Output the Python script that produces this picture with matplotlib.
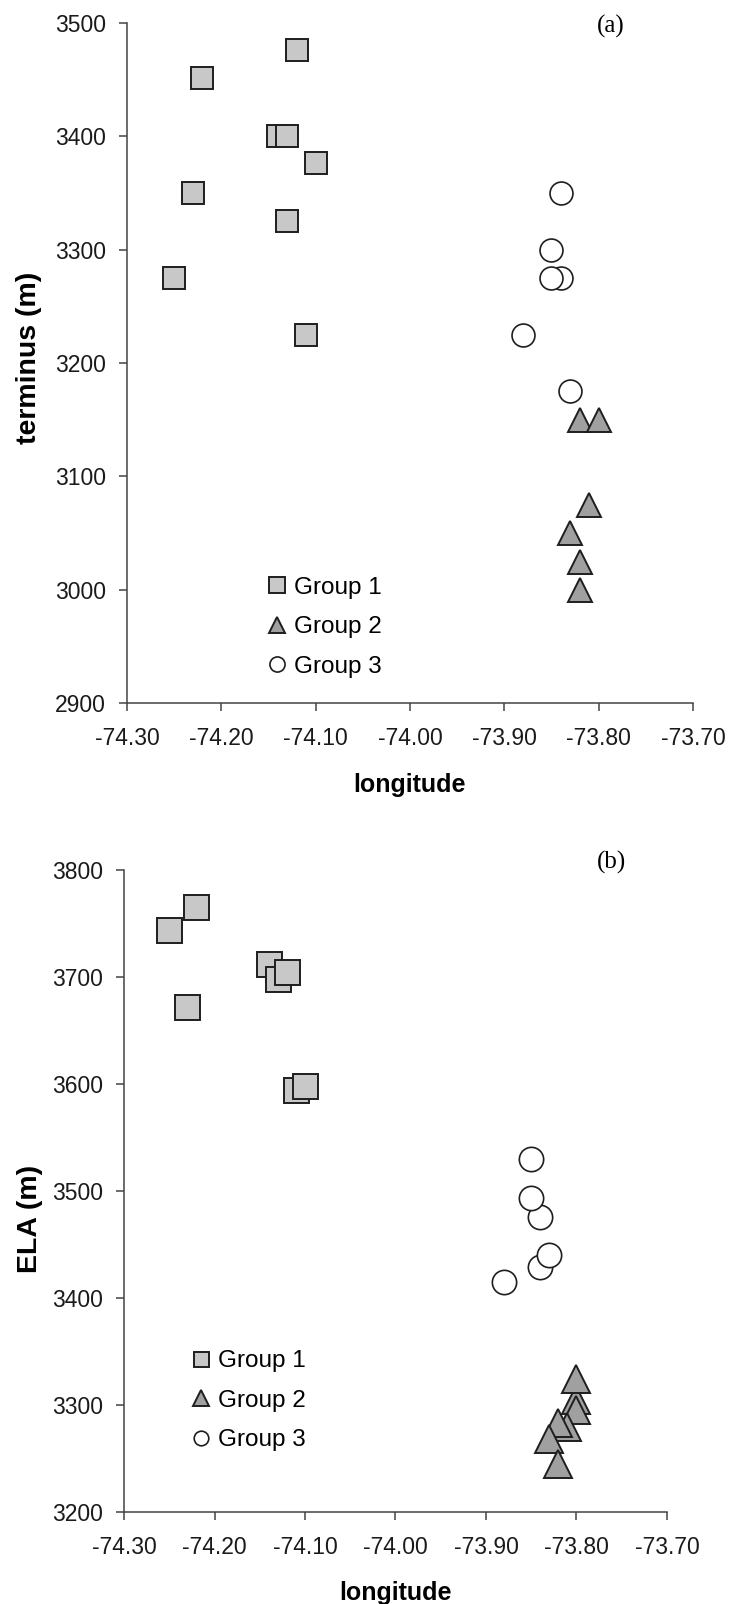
import matplotlib
matplotlib.use('Agg')
import matplotlib.pyplot as plt
import numpy as np
from matplotlib.ticker import FormatStrFormatter

plt.rcParams['font.family'] = ['Liberation Sans', 'DejaVu Sans']

# panel (a): terminus elevation vs longitude
g1_lon_a = [-74.12, -74.22, -74.14, -74.13, -74.10, -74.23, -74.13, -74.25, -74.11]
g1_term = [3476, 3451, 3400, 3400, 3376, 3350, 3325, 3275, 3225]
g2_lon_a = [-73.82, -73.80, -73.81, -73.83, -73.82, -73.82]
g2_term = [3150, 3150, 3075, 3050, 3025, 3000]
g3_lon_a = [-73.84, -73.85, -73.84, -73.85, -73.88, -73.83]
g3_term = [3350, 3300, 3275, 3275, 3225, 3175]

# panel (b): ELA vs longitude
g1_lon_b = [-74.22, -74.25, -74.14, -74.13, -74.12, -74.23, -74.11, -74.10]
g1_ela = [3765, 3744, 3712, 3698, 3705, 3672, 3594, 3598]
g2_lon_b = [-73.80, -73.80, -73.80, -73.81, -73.82, -73.83, -73.82]
g2_ela = [3305, 3324, 3295, 3279, 3283, 3268, 3245]
g3_lon_b = [-73.85, -73.84, -73.85, -73.84, -73.83, -73.88]
g3_ela = [3530, 3476, 3493, 3429, 3440, 3415]

xticks = [-74.30, -74.20, -74.10, -74.00, -73.90, -73.80, -73.70]
labels = ['Group 1', 'Group 2', 'Group 3']

c1 = '#c8c8c8'
c2 = '#a0a0a0'
edge = '#1e1e1e'
spine_c = '#444444'

fig = plt.figure(figsize=(7.32, 16.04), dpi=100)
ax1 = fig.add_axes([0.1735, 0.5615, 0.7732, 0.4243])
ax2 = fig.add_axes([0.1694, 0.0574, 0.7418, 0.4002])


def style_axes(ax, ylim, yticks):
    ax.set_xlim(-74.30, -73.70)
    ax.set_ylim(*ylim)
    ax.set_xticks(xticks)
    ax.set_yticks(yticks)
    ax.xaxis.set_major_formatter(FormatStrFormatter('%.2f'))
    for s in ['top', 'right']:
        ax.spines[s].set_visible(False)
    for s in ['left', 'bottom']:
        ax.spines[s].set_color(spine_c)
        ax.spines[s].set_linewidth(1.1)
    ax.tick_params(axis='both', direction='out', length=6, width=1.1,
                   color=spine_c, labelsize=16.5, labelcolor='#1a1a1a')
    ax.tick_params(axis='x', pad=11)
    ax.tick_params(axis='y', pad=9)


def draw(ax, data, ms):
    (x1, y1), (x2, y2), (x3, y3) = data
    ax.plot(x1, y1, 's', ms=ms[0], mfc=c1, mec=edge, mew=1.4, ls='none', label=labels[0])
    ax.plot(x2, y2, '^', ms=ms[1], mfc=c2, mec=edge, mew=1.4, ls='none', label=labels[1])
    ax.plot(x3, y3, 'o', ms=ms[2], mfc='white', mec=edge, mew=1.2, ls='none', label=labels[2])


draw(ax1, [(g1_lon_a, g1_term), (g2_lon_a, g2_term), (g3_lon_a, g3_term)], (16.5, 17.5, 16.5))
draw(ax2, [(g1_lon_b, g1_ela), (g2_lon_b, g2_ela), (g3_lon_b, g3_ela)], (18, 19.5, 17.5))

style_axes(ax1, (2900, 3500), np.arange(2900, 3501, 100))
style_axes(ax2, (3200, 3800), np.arange(3200, 3801, 100))

ax1.set_ylabel('terminus (m)', fontsize=20.5, fontweight='bold', va='center')
ax1.yaxis.set_label_coords(-0.173, 0.507)
ax1.set_xlabel('longitude', fontsize=18, fontweight='bold', va='center')
ax1.xaxis.set_label_coords(0.5, -0.120)

ax2.set_ylabel('ELA (m)', fontsize=20.5, fontweight='bold', va='center')
ax2.yaxis.set_label_coords(-0.173, 0.456)
ax2.set_xlabel('longitude', fontsize=18, fontweight='bold', va='center')
ax2.xaxis.set_label_coords(0.5, -0.126)

leg_kw = dict(frameon=False, fontsize=17.5, borderpad=0, borderaxespad=0,
              handlelength=0.8, handletextpad=0.3, labelspacing=0.72,
              loc='upper left', numpoints=1)
ax1.legend(bbox_to_anchor=(0.248, 0.186), markerscale=0.66, **leg_kw)
ax2.legend(bbox_to_anchor=(0.123, 0.252), markerscale=0.6, **leg_kw)

fig.text(0.8347, 0.9832, '(a)', family='Liberation Serif', fontsize=18,
         ha='center', va='center')
fig.text(0.836, 0.462, '(b)', family='Liberation Serif', fontsize=18,
         ha='center', va='center')

fig.savefig('out.png', dpi=100)
